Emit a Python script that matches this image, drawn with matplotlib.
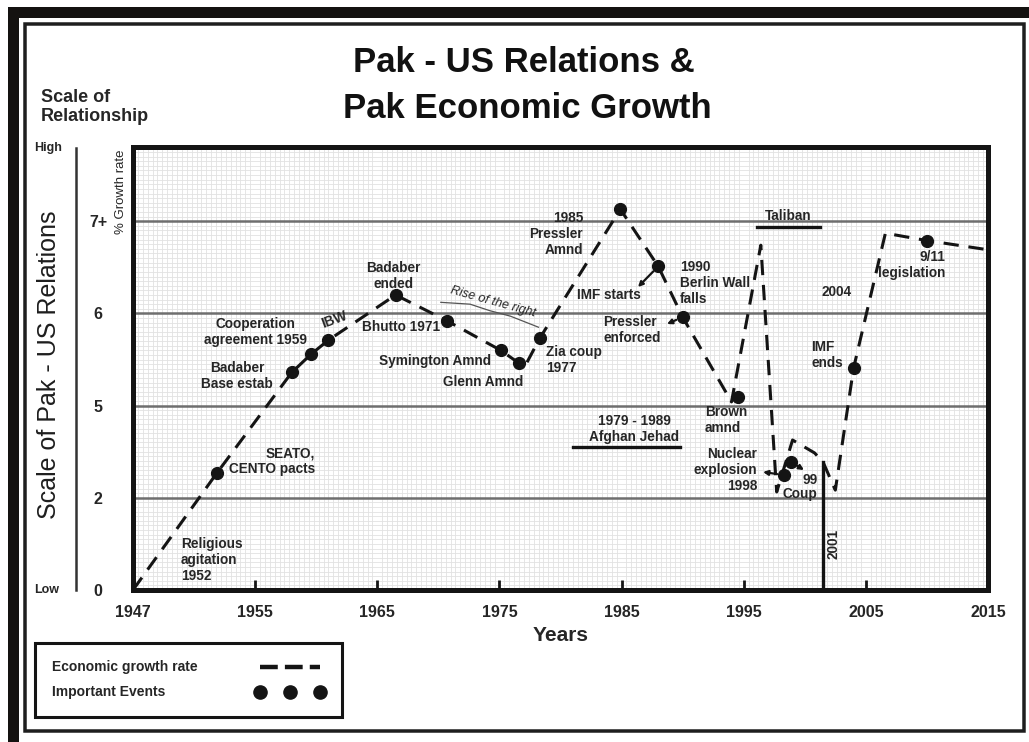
import numpy as np
import matplotlib
matplotlib.use('Agg')
import matplotlib.pyplot as plt
from matplotlib.patches import Rectangle
from matplotlib.lines import Line2D

plt.rcParams['font.family'] = ['Liberation Sans', 'DejaVu Sans']

# ---------------- data ----------------
# x-axis: tick years are evenly spaced on the chart (1947-1955 is a shorter span)
tick_years = [1947, 1955, 1965, 1975, 1985, 1995, 2005, 2015]
tick_year_labels = ['1947', '1955', '1965', '1975', '1985', '1995', '2005', '2015']
# y-axis: growth-rate levels, evenly spaced on the chart
level_values = [0, 2, 5, 6, 7]
level_labels = ['0', '2', '5', '6', '7+']

# economic growth rate (dashed line)
growth_years = [1947, 1952.5, 1958.0, 1959.6, 1961.0, 1966.5, 1970.7, 1975.1, 1976.6,
                1977.1, 1978.3, 1984.9, 1988.0, 1990.0, 1994.0, 1996.4, 1997.7,
                1999.0, 2000.8, 2001.5, 2002.5, 2004.0, 2006.6, 2010.0, 2015]
growth_rate = [0, 2.81, 5.36, 5.56, 5.71, 6.20, 5.92, 5.60, 5.46,
               5.43, 5.73, 7.13, 6.51, 5.96, 5.04, 6.74, 2.19,
               3.88, 3.46, 3.16, 2.25, 5.41, 6.87, 6.79, 6.69]

# important events (dots)
event_names = ['SEATO, CENTO pacts', 'Badaber Base estab', 'Cooperation agreement 1959',
               'IBW', 'Badaber ended', 'Bhutto 1971', 'Symington Amnd', 'Glenn Amnd',
               'Zia coup 1977', '1985 Pressler Amnd', 'IMF starts', '1990 Berlin Wall falls',
               'Brown amnd', 'Nuclear explosion 1998', '99 Coup', 'IMF ends',
               '9/11 legislation']
event_years = [1952.5, 1958.0, 1959.6, 1961.0, 1966.5, 1970.7, 1975.1, 1976.6,
               1978.3, 1984.9, 1988.0, 1990.0, 1994.5, 1998.3, 1998.9, 2004.0, 2010.0]
event_rate = [2.81, 5.36, 5.56, 5.71, 6.20, 5.92, 5.60, 5.46,
              5.73, 7.13, 6.51, 5.96, 5.09, 2.74, 3.16, 5.41, 6.79]

# period markers
year_2001_line = [2001.5, 2001.5]
year_2001_rate = [0, 3.16]
afghan_years = [1981.0, 1989.8]
afghan_rate = [3.65, 3.65]
taliban_years = [1996.1, 2001.25]
taliban_rate = [6.94, 6.94]
rise_years = [1970.2, 1972.6, 1974.2, 1975.9, 1978.2]
rise_rate = [6.12, 6.10, 6.03, 5.97, 5.85]

# ---------------- scales ----------------
_xy = np.array([1939] + tick_years + [2025], float)
_xi = np.arange(-1, len(tick_years) + 1, dtype=float)
def x_fwd(v):
    return np.interp(v, _xy, _xi)
def x_inv(v):
    return np.interp(v, _xi, _xy)

_yv = np.array(level_values + [8, 9], float)
_yi = np.arange(len(_yv), dtype=float)
def y_fwd(v):
    return np.interp(v, _yv, _yi)
def y_inv(v):
    return np.interp(v, _yi, _yv)

# ---------------- figure ----------------
W, H = 1029, 742
fig = plt.figure(figsize=(W / 100, H / 100), dpi=100)
fig.patch.set_facecolor('white')

AL, AB, AW, AH = 133, 590, 855, 443
ax = fig.add_axes([AL / W, (H - AB) / H, AW / W, AH / H])
ax.set_xscale('function', functions=(x_fwd, x_inv))
ax.set_yscale('function', functions=(y_fwd, y_inv))
ax.set_xlim(1947, 2015)
ax.set_ylim(0, y_inv(AH / 92.2))

ink = '#141414'
txt = '#262626'

ax.set_xticks(tick_years)
ax.set_xticklabels(tick_year_labels, fontsize=11.5, fontweight='bold', color=txt)
ax.set_yticks(level_values)
ax.set_yticklabels(level_labels, fontsize=11.5, fontweight='bold', color=txt)
for lab in ax.get_yticklabels():
    lab.set_horizontalalignment('center')
ax.tick_params(axis='x', length=0, pad=11)
ax.tick_params(axis='y', length=0, pad=25)

ax.set_xticks(x_inv(np.arange(0, 7.0001, 1 / 25)), minor=True)
ax.set_yticks(y_inv(np.arange(0, 4.81, 1 / 20)), minor=True)
ax.tick_params(which='minor', length=0)
ax.grid(True, which='minor', color='#e2e2e2', lw=0.6)
ax.yaxis.grid(True, which='major', color='#6e6e6e', lw=1.8)
ax.xaxis.grid(False, which='major')
ax.set_axisbelow(True)

for s in ax.spines.values():
    s.set_linewidth(3.6)
    s.set_color(ink)

# inward tick marks drawn on a twin axis so that grid lines do not cover them
ax_t = ax.twiny()
ax_t.set_xscale('function', functions=(x_fwd, x_inv))
ax_t.set_xlim(1947, 2015)
ax_t.set_xticks(tick_years[1:-1])
ax_t.set_xticks([], minor=True)
ax_t.xaxis.set_ticks_position('bottom')
ax_t.tick_params(axis='x', direction='in', length=7, width=2, color=ink,
                 labelbottom=False, labeltop=False, top=False, bottom=True)
for s in ax_t.spines.values():
    s.set_visible(False)
ax_t.patch.set_visible(False)

growth_line, = ax.plot(growth_years, growth_rate, color=ink, lw=2.2,
                       dashes=(5, 3.2), solid_capstyle='butt', zorder=3)
events_pts, = ax.plot(event_years, event_rate, 'o', color=ink, ms=8.5,
                      linestyle='none', zorder=4)

ax.plot(year_2001_line, year_2001_rate, color=ink, lw=2.4, zorder=3)
ax.plot(afghan_years, afghan_rate, color=ink, lw=2.4, zorder=3)
ax.plot(taliban_years, taliban_rate, color=ink, lw=2.4, zorder=3)
ax.plot(rise_years, rise_rate, color='#555555', lw=0.9, zorder=3)


def axf(px, py):
    return ((px - AL) / AW, (AB - py) / AH)


labels = [
    ('Religious\nagitation\n1952', 181, 560, 'left', 0),
    ('SEATO,\nCENTO pacts', 315, 461, 'right', 0),
    ('Badaber\nBase estab', 237, 376, 'center', 0),
    ('Cooperation\nagreement 1959', 255, 332, 'center', 0),
    ('IBW', 334, 320, 'center', 20),
    ('Badaber\nended', 393, 276, 'center', 0),
    ('Bhutto 1971', 440, 327, 'right', 0),
    ('Symington Amnd', 435, 361, 'center', 0),
    ('Glenn Amnd', 483, 382, 'center', 0),
    ('Zia coup\n1977', 546, 360, 'left', 0),
    ('1985\nPressler\nAmnd', 583, 234, 'right', 0),
    ('IMF starts', 609, 295, 'center', 0),
    ('1990\nBerlin Wall\nfalls', 680, 283, 'left', 0),
    ('Pressler\nenforced', 603, 330, 'left', 0),
    ('Brown\namnd', 705, 420, 'left', 0),
    ('Taliban', 788, 216, 'center', 0),
    ('1979 - 1989\nAfghan Jehad', 634, 429, 'center', 0),
    ('Nuclear\nexplosion\n1998', 757, 470, 'right', 0),
    ('99', 810, 480, 'center', 0),
    ('Coup', 800, 494, 'center', 0),
    ('2001', 834, 544, 'center', 90),
    ('2004', 837, 292, 'center', 0),
    ('IMF\nends', 811, 355, 'left', 0),
    ('9/11\nlegislation', 945, 265, 'right', 0),
]
for s, px_, py_, ha, rot in labels:
    ax.text(*axf(px_, py_), s, transform=ax.transAxes, ha=ha, va='center',
            multialignment=ha, rotation=rot,
            fontsize=9.8, fontweight='bold', color=txt, zorder=5, linespacing=1.15)

ax.text(*axf(493, 302), 'Rise of the right', transform=ax.transAxes, ha='center',
        va='center', rotation=-15.5, fontsize=9, fontstyle='italic', color=txt, zorder=5)

# small arrows from events to their labels
arrows = [(10, 638, 287), (11, 667, 324), (13, 763, 472), (14, 804, 470)]
for idx, tx, ty in arrows:
    ax.annotate('', xy=axf(tx, ty), xycoords='axes fraction',
                xytext=(event_years[idx], event_rate[idx]), textcoords='data',
                arrowprops=dict(arrowstyle='-|>', lw=1.6, color=ink,
                                mutation_scale=7, shrinkA=5, shrinkB=0), zorder=5)

ax.set_xlabel('Years', fontsize=15, fontweight='bold', color=txt, labelpad=4)

# ---------------- surrounding texts ----------------
fig.text(524 / W, 1 - 62 / H, 'Pak - US Relations &', ha='center', va='center',
         fontsize=25, fontweight='bold', color='#111111')
fig.text(527 / W, 1 - 108 / H, 'Pak Economic Growth', ha='center', va='center',
         fontsize=25, fontweight='bold', color='#111111')
fig.text(41 / W, 1 - 107 / H, 'Scale of\nRelationship', ha='left', va='center',
         fontsize=13, fontweight='bold', color=txt, linespacing=1.15)
fig.text(48 / W, 1 - 148 / H, 'High', ha='center', va='center', fontsize=9,
         fontweight='bold', color=txt)
fig.text(47 / W, 1 - 590 / H, 'Low', ha='center', va='center', fontsize=9,
         fontweight='bold', color=txt)
fig.text(49 / W, 1 - 365 / H, 'Scale of Pak - US Relations', ha='center', va='center',
         rotation=90, fontsize=18, color='#1e1e1e')
fig.text(121 / W, 1 - 192 / H, '% Growth rate', ha='center', va='center',
         rotation=90, fontsize=9.5, color=txt)
fig.add_artist(Line2D([76 / W, 76 / W], [1 - 148 / H, 1 - 590 / H],
                      transform=fig.transFigure, color='#333333', lw=1.8))

# frames
fig.add_artist(Rectangle((12.5 / W, 1 - 746 / H), (1040 - 12.5) / W, (746 - 11.5) / H,
                         transform=fig.transFigure, fill=False, ec='#141210',
                         lw=11 * 0.72, clip_on=False))
fig.add_artist(Rectangle((24.5 / W, 1 - 731 / H), (1024 - 24.5) / W, (731 - 23.5) / H,
                         transform=fig.transFigure, fill=False, ec='#1e1e1e',
                         lw=3.5 * 0.72, clip_on=False))

# legend
leg = fig.legend([growth_line, events_pts], ['Economic growth rate', 'Important Events'],
                 loc='upper left', bbox_to_anchor=(35 / W, 1 - 643 / H),
                 bbox_transform=fig.transFigure, markerfirst=False, numpoints=3,
                 frameon=True, fancybox=False, edgecolor=ink, framealpha=1,
                 borderpad=1.25, handlelength=4.9, handletextpad=4.2,
                 labelspacing=0.8, borderaxespad=0,
                 prop={'weight': 'bold', 'size': 10})
leg.get_frame().set_linewidth(2.2)
for t in leg.get_texts():
    t.set_color(txt)
hs = leg.legend_handles
hs[0].set_linewidth(3.2)
hs[0].set_dashes((4.0, 1.6))
hs[1].set_markersize(9.5)

# left-align the legend labels (handles stay in a right-aligned column)
fig.canvas.draw()
renderer = fig.canvas.get_renderer()
widths = [t.get_window_extent(renderer).width for t in leg.get_texts()]
rows = leg._legend_handle_box.get_children()[0].get_children()
for row, w in zip(rows, widths):
    row.sep += (max(widths) - w) * 72 / fig.dpi

fig.savefig('out.png', dpi=100, facecolor='white')
